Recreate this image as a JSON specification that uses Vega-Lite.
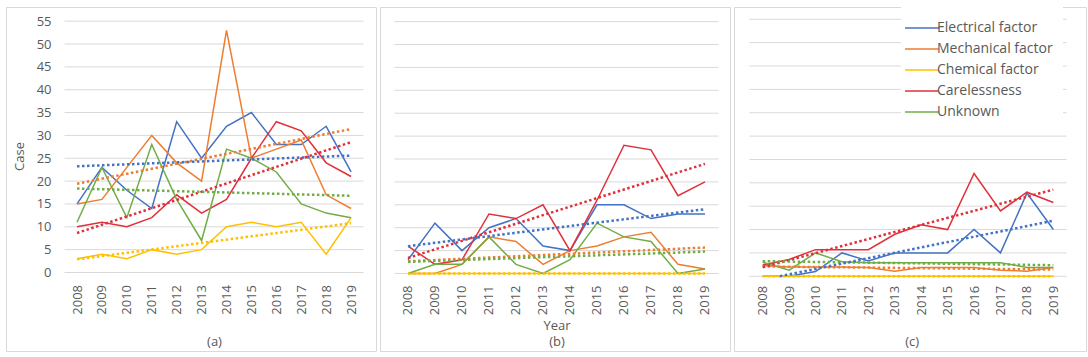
{
  "$schema": "https://vega.github.io/schema/vega-lite/v6.json",
  "padding": {"left": 5, "top": 6, "right": 0, "bottom": 0},
  "spacing": 2,
  "config": {
    "font": "Open Sans",
    "view": {"stroke": "#D9D9D9", "strokeWidth": 1},
    "axis": {"labelFont": "Open Sans", "labelFontSize": 13, "labelColor": "#595959", "labelOverlap": false, "labelSeparation": 0, "titleFont": "Open Sans", "titleFontSize": 13, "titleFontWeight": "normal", "titleColor": "#595959"},
    "legend": {"labelFont": "Open Sans", "labelFontSize": 14, "labelColor": "#595959"}
  },
  "datasets": {
    "grid": [{"g":0},{"g":5},{"g":10},{"g":15},{"g":20},{"g":25},{"g":30},{"g":35},{"g":40},{"g":45},{"g":50},{"g":55}],
    "cases": [
      {"panel":"a","series":"Electrical factor","year":2008,"v":15},{"panel":"a","series":"Electrical factor","year":2009,"v":23},{"panel":"a","series":"Electrical factor","year":2010,"v":18},{"panel":"a","series":"Electrical factor","year":2011,"v":14},{"panel":"a","series":"Electrical factor","year":2012,"v":33},{"panel":"a","series":"Electrical factor","year":2013,"v":25},{"panel":"a","series":"Electrical factor","year":2014,"v":32},{"panel":"a","series":"Electrical factor","year":2015,"v":35},{"panel":"a","series":"Electrical factor","year":2016,"v":28},{"panel":"a","series":"Electrical factor","year":2017,"v":28},{"panel":"a","series":"Electrical factor","year":2018,"v":32},{"panel":"a","series":"Electrical factor","year":2019,"v":22},
      {"panel":"a","series":"Mechanical factor","year":2008,"v":15},{"panel":"a","series":"Mechanical factor","year":2009,"v":16},{"panel":"a","series":"Mechanical factor","year":2010,"v":23},{"panel":"a","series":"Mechanical factor","year":2011,"v":30},{"panel":"a","series":"Mechanical factor","year":2012,"v":24},{"panel":"a","series":"Mechanical factor","year":2013,"v":20},{"panel":"a","series":"Mechanical factor","year":2014,"v":53},{"panel":"a","series":"Mechanical factor","year":2015,"v":25},{"panel":"a","series":"Mechanical factor","year":2016,"v":27},{"panel":"a","series":"Mechanical factor","year":2017,"v":29},{"panel":"a","series":"Mechanical factor","year":2018,"v":17},{"panel":"a","series":"Mechanical factor","year":2019,"v":14},
      {"panel":"a","series":"Chemical factor","year":2008,"v":3},{"panel":"a","series":"Chemical factor","year":2009,"v":4},{"panel":"a","series":"Chemical factor","year":2010,"v":3},{"panel":"a","series":"Chemical factor","year":2011,"v":5},{"panel":"a","series":"Chemical factor","year":2012,"v":4},{"panel":"a","series":"Chemical factor","year":2013,"v":5},{"panel":"a","series":"Chemical factor","year":2014,"v":10},{"panel":"a","series":"Chemical factor","year":2015,"v":11},{"panel":"a","series":"Chemical factor","year":2016,"v":10},{"panel":"a","series":"Chemical factor","year":2017,"v":11},{"panel":"a","series":"Chemical factor","year":2018,"v":4},{"panel":"a","series":"Chemical factor","year":2019,"v":12},
      {"panel":"a","series":"Carelessness","year":2008,"v":10},{"panel":"a","series":"Carelessness","year":2009,"v":11},{"panel":"a","series":"Carelessness","year":2010,"v":10},{"panel":"a","series":"Carelessness","year":2011,"v":12},{"panel":"a","series":"Carelessness","year":2012,"v":17},{"panel":"a","series":"Carelessness","year":2013,"v":13},{"panel":"a","series":"Carelessness","year":2014,"v":16},{"panel":"a","series":"Carelessness","year":2015,"v":25},{"panel":"a","series":"Carelessness","year":2016,"v":33},{"panel":"a","series":"Carelessness","year":2017,"v":31},{"panel":"a","series":"Carelessness","year":2018,"v":24},{"panel":"a","series":"Carelessness","year":2019,"v":21},
      {"panel":"a","series":"Unknown","year":2008,"v":11},{"panel":"a","series":"Unknown","year":2009,"v":23},{"panel":"a","series":"Unknown","year":2010,"v":12},{"panel":"a","series":"Unknown","year":2011,"v":28},{"panel":"a","series":"Unknown","year":2012,"v":16},{"panel":"a","series":"Unknown","year":2013,"v":7},{"panel":"a","series":"Unknown","year":2014,"v":27},{"panel":"a","series":"Unknown","year":2015,"v":25},{"panel":"a","series":"Unknown","year":2016,"v":22},{"panel":"a","series":"Unknown","year":2017,"v":15},{"panel":"a","series":"Unknown","year":2018,"v":13},{"panel":"a","series":"Unknown","year":2019,"v":12},
      {"panel":"b","series":"Electrical factor","year":2008,"v":3},{"panel":"b","series":"Electrical factor","year":2009,"v":11},{"panel":"b","series":"Electrical factor","year":2010,"v":5},{"panel":"b","series":"Electrical factor","year":2011,"v":10},{"panel":"b","series":"Electrical factor","year":2012,"v":12},{"panel":"b","series":"Electrical factor","year":2013,"v":6},{"panel":"b","series":"Electrical factor","year":2014,"v":5},{"panel":"b","series":"Electrical factor","year":2015,"v":15},{"panel":"b","series":"Electrical factor","year":2016,"v":15},{"panel":"b","series":"Electrical factor","year":2017,"v":12},{"panel":"b","series":"Electrical factor","year":2018,"v":13},{"panel":"b","series":"Electrical factor","year":2019,"v":13},
      {"panel":"b","series":"Mechanical factor","year":2008,"v":0},{"panel":"b","series":"Mechanical factor","year":2009,"v":0},{"panel":"b","series":"Mechanical factor","year":2010,"v":2},{"panel":"b","series":"Mechanical factor","year":2011,"v":8},{"panel":"b","series":"Mechanical factor","year":2012,"v":7},{"panel":"b","series":"Mechanical factor","year":2013,"v":2},{"panel":"b","series":"Mechanical factor","year":2014,"v":5},{"panel":"b","series":"Mechanical factor","year":2015,"v":6},{"panel":"b","series":"Mechanical factor","year":2016,"v":8},{"panel":"b","series":"Mechanical factor","year":2017,"v":9},{"panel":"b","series":"Mechanical factor","year":2018,"v":2},{"panel":"b","series":"Mechanical factor","year":2019,"v":1},
      {"panel":"b","series":"Chemical factor","year":2008,"v":0},{"panel":"b","series":"Chemical factor","year":2009,"v":0},{"panel":"b","series":"Chemical factor","year":2010,"v":0},{"panel":"b","series":"Chemical factor","year":2011,"v":0},{"panel":"b","series":"Chemical factor","year":2012,"v":0},{"panel":"b","series":"Chemical factor","year":2013,"v":0},{"panel":"b","series":"Chemical factor","year":2014,"v":0},{"panel":"b","series":"Chemical factor","year":2015,"v":0},{"panel":"b","series":"Chemical factor","year":2016,"v":0},{"panel":"b","series":"Chemical factor","year":2017,"v":0},{"panel":"b","series":"Chemical factor","year":2018,"v":0},{"panel":"b","series":"Chemical factor","year":2019,"v":0},
      {"panel":"b","series":"Carelessness","year":2008,"v":6},{"panel":"b","series":"Carelessness","year":2009,"v":2},{"panel":"b","series":"Carelessness","year":2010,"v":3},{"panel":"b","series":"Carelessness","year":2011,"v":13},{"panel":"b","series":"Carelessness","year":2012,"v":12},{"panel":"b","series":"Carelessness","year":2013,"v":15},{"panel":"b","series":"Carelessness","year":2014,"v":5},{"panel":"b","series":"Carelessness","year":2015,"v":16},{"panel":"b","series":"Carelessness","year":2016,"v":28},{"panel":"b","series":"Carelessness","year":2017,"v":27},{"panel":"b","series":"Carelessness","year":2018,"v":17},{"panel":"b","series":"Carelessness","year":2019,"v":20},
      {"panel":"b","series":"Unknown","year":2008,"v":0},{"panel":"b","series":"Unknown","year":2009,"v":2},{"panel":"b","series":"Unknown","year":2010,"v":2},{"panel":"b","series":"Unknown","year":2011,"v":8},{"panel":"b","series":"Unknown","year":2012,"v":2},{"panel":"b","series":"Unknown","year":2013,"v":0},{"panel":"b","series":"Unknown","year":2014,"v":3},{"panel":"b","series":"Unknown","year":2015,"v":11},{"panel":"b","series":"Unknown","year":2016,"v":8},{"panel":"b","series":"Unknown","year":2017,"v":7},{"panel":"b","series":"Unknown","year":2018,"v":0},{"panel":"b","series":"Unknown","year":2019,"v":1},
      {"panel":"c","series":"Electrical factor","year":2008,"v":0},{"panel":"c","series":"Electrical factor","year":2009,"v":0},{"panel":"c","series":"Electrical factor","year":2010,"v":1},{"panel":"c","series":"Electrical factor","year":2011,"v":5},{"panel":"c","series":"Electrical factor","year":2012,"v":3.3},{"panel":"c","series":"Electrical factor","year":2013,"v":5},{"panel":"c","series":"Electrical factor","year":2014,"v":5},{"panel":"c","series":"Electrical factor","year":2015,"v":5},{"panel":"c","series":"Electrical factor","year":2016,"v":10},{"panel":"c","series":"Electrical factor","year":2017,"v":5},{"panel":"c","series":"Electrical factor","year":2018,"v":17.8},{"panel":"c","series":"Electrical factor","year":2019,"v":10},
      {"panel":"c","series":"Mechanical factor","year":2008,"v":2.3},{"panel":"c","series":"Mechanical factor","year":2009,"v":2},{"panel":"c","series":"Mechanical factor","year":2010,"v":2},{"panel":"c","series":"Mechanical factor","year":2011,"v":2},{"panel":"c","series":"Mechanical factor","year":2012,"v":1.9},{"panel":"c","series":"Mechanical factor","year":2013,"v":1.1},{"panel":"c","series":"Mechanical factor","year":2014,"v":1.9},{"panel":"c","series":"Mechanical factor","year":2015,"v":1.9},{"panel":"c","series":"Mechanical factor","year":2016,"v":1.9},{"panel":"c","series":"Mechanical factor","year":2017,"v":1.3},{"panel":"c","series":"Mechanical factor","year":2018,"v":1.1},{"panel":"c","series":"Mechanical factor","year":2019,"v":1.9},
      {"panel":"c","series":"Chemical factor","year":2008,"v":0},{"panel":"c","series":"Chemical factor","year":2009,"v":0},{"panel":"c","series":"Chemical factor","year":2010,"v":0},{"panel":"c","series":"Chemical factor","year":2011,"v":0},{"panel":"c","series":"Chemical factor","year":2012,"v":0},{"panel":"c","series":"Chemical factor","year":2013,"v":0},{"panel":"c","series":"Chemical factor","year":2014,"v":0},{"panel":"c","series":"Chemical factor","year":2015,"v":0},{"panel":"c","series":"Chemical factor","year":2016,"v":0},{"panel":"c","series":"Chemical factor","year":2017,"v":0},{"panel":"c","series":"Chemical factor","year":2018,"v":0},{"panel":"c","series":"Chemical factor","year":2019,"v":0},
      {"panel":"c","series":"Carelessness","year":2008,"v":2.4},{"panel":"c","series":"Carelessness","year":2009,"v":3.6},{"panel":"c","series":"Carelessness","year":2010,"v":5.7},{"panel":"c","series":"Carelessness","year":2011,"v":5.7},{"panel":"c","series":"Carelessness","year":2012,"v":5.7},{"panel":"c","series":"Carelessness","year":2013,"v":9},{"panel":"c","series":"Carelessness","year":2014,"v":11},{"panel":"c","series":"Carelessness","year":2015,"v":10},{"panel":"c","series":"Carelessness","year":2016,"v":22},{"panel":"c","series":"Carelessness","year":2017,"v":14},{"panel":"c","series":"Carelessness","year":2018,"v":18},{"panel":"c","series":"Carelessness","year":2019,"v":15.8},
      {"panel":"c","series":"Unknown","year":2008,"v":3},{"panel":"c","series":"Unknown","year":2009,"v":1.3},{"panel":"c","series":"Unknown","year":2010,"v":5},{"panel":"c","series":"Unknown","year":2011,"v":3.1},{"panel":"c","series":"Unknown","year":2012,"v":2.9},{"panel":"c","series":"Unknown","year":2013,"v":2.9},{"panel":"c","series":"Unknown","year":2014,"v":2.9},{"panel":"c","series":"Unknown","year":2015,"v":2.9},{"panel":"c","series":"Unknown","year":2016,"v":2.9},{"panel":"c","series":"Unknown","year":2017,"v":2.9},{"panel":"c","series":"Unknown","year":2018,"v":1.9},{"panel":"c","series":"Unknown","year":2019,"v":1.9}
    ]
  },
  "resolve": {"legend": {"color": "independent"}},
  "hconcat": [
    {
      "width": 370, "height": 344,
      "resolve": {"scale": {"color": "independent"}},
      "layer": [
        {"data": {"name": "grid"}, "mark": {"type": "rule", "color": "#D9D9D9", "strokeWidth": 1},
         "encoding": {
           "y": {"field": "g", "type": "quantitative", "scale": {"domain": [-17.18, 58.1], "nice": false, "zero": false},
                 "axis": {"orient": "left", "offset": -47, "values": [0,5,10,15,20,25,30,35,40,45,50,55], "tickCount": 30, "labelOverlap": false, "grid": false, "domain": false, "ticks": false, "labelPadding": 2, "title": "Case", "titleX": -34, "titleY": 149, "titleAngle": -90, "titleBaseline": "middle"}},
           "x": {"datum": 2007.5, "type": "quantitative", "scale": {"domain": [2005.15, 2020.0], "nice": false, "zero": false},
                 "axis": {"orient": "bottom", "offset": -78.5, "values": [2008,2009,2010,2011,2012,2013,2014,2015,2016,2017,2018,2019], "tickCount": 30, "labelOverlap": false, "format": "d", "labelAngle": -90, "grid": false, "domain": false, "ticks": false, "labelPadding": 12, "title": "(a)", "titleX": 208, "titleY": 68.5, "titleBaseline": "middle"}},
           "x2": {"datum": 2019.5}
         }},
        {"data": {"name": "cases"}, "transform": [{"filter": "datum.panel == 'a'"}],
         "mark": {"type": "line", "strokeWidth": 1.5},
         "encoding": {
           "x": {"field": "year", "type": "quantitative"},
           "y": {"field": "v", "type": "quantitative"},
           "color": {"field": "series", "type": "nominal", "legend": null, "scale": {"domain": ["Electrical factor","Mechanical factor","Chemical factor","Carelessness","Unknown"], "range": ["#4472C4","#ED7D31","#FFC000","#E0303A","#70AD47"]}},
           "strokeWidth": {"field": "series", "type": "nominal", "legend": null, "scale": {"domain": ["Electrical factor","Mechanical factor","Chemical factor","Carelessness","Unknown"], "range": [1.5,1.5,1.5,2,1.5]}}
         }},
        {"data": {"name": "cases"}, "transform": [{"filter": "datum.panel == 'a'"}, {"regression": "v", "on": "year", "groupby": ["series"], "extent": [2008, 2019]}],
         "mark": {"type": "line", "strokeWidth": 2.5, "strokeDash": [2.5, 2.5]},
         "encoding": {
           "x": {"field": "year", "type": "quantitative"},
           "y": {"field": "v", "type": "quantitative"},
           "color": {"field": "series", "type": "nominal", "legend": null, "scale": {"domain": ["Electrical factor","Mechanical factor","Chemical factor","Carelessness","Unknown"], "range": ["#ED7D31","#4472C4","#FFC000","#E0303A","#70AD47"]}}
         }}
      ]
    },
    {
      "width": 350, "height": 344,
      "layer": [
        {"data": {"name": "grid"}, "mark": {"type": "rule", "color": "#D9D9D9", "strokeWidth": 1},
         "encoding": {
           "y": {"field": "g", "type": "quantitative", "scale": {"domain": [-16.92, 58.19], "nice": false, "zero": false}, "axis": null},
           "x": {"datum": 2007.5, "type": "quantitative", "scale": {"domain": [2006.963, 2019.926], "nice": false, "zero": false},
                 "axis": {"orient": "bottom", "offset": -77.5, "values": [2008,2009,2010,2011,2012,2013,2014,2015,2016,2017,2018,2019], "tickCount": 30, "labelOverlap": false, "format": "d", "labelAngle": -90, "grid": false, "domain": false, "ticks": false, "labelPadding": 11.5, "title": ["Year", "(b)"], "titleLineHeight": 16, "titleX": 176.5, "titleY": 51.5, "titleBaseline": "middle"}},
           "x2": {"datum": 2019.5}
         }},
        {"data": {"name": "cases"}, "transform": [{"filter": "datum.panel == 'b'"}],
         "mark": {"type": "line", "strokeWidth": 1.5},
         "encoding": {
           "x": {"field": "year", "type": "quantitative"},
           "y": {"field": "v", "type": "quantitative"},
           "color": {"field": "series", "type": "nominal", "legend": null, "scale": {"domain": ["Electrical factor","Mechanical factor","Chemical factor","Carelessness","Unknown"], "range": ["#4472C4","#ED7D31","#FFC000","#E0303A","#70AD47"]}},
           "strokeWidth": {"field": "series", "type": "nominal", "legend": null, "scale": {"domain": ["Electrical factor","Mechanical factor","Chemical factor","Carelessness","Unknown"], "range": [1.5,1.5,1.5,2,1.5]}}
         }},
        {"data": {"name": "cases"}, "transform": [{"filter": "datum.panel == 'b'"}, {"regression": "v", "on": "year", "groupby": ["series"], "extent": [2008, 2019]}],
         "mark": {"type": "line", "strokeWidth": 2.5, "strokeDash": [2.5, 2.5]},
         "encoding": {
           "x": {"field": "year", "type": "quantitative"},
           "y": {"field": "v", "type": "quantitative"},
           "color": {"field": "series", "type": "nominal", "legend": null}
         }}
      ]
    },
    {
      "width": 352, "height": 344,
      "layer": [
        {"data": {"name": "grid"}, "mark": {"type": "rule", "color": "#D9D9D9", "strokeWidth": 1},
         "encoding": {
           "y": {"field": "g", "type": "quantitative", "scale": {"domain": [-15.99, 57.63], "nice": false, "zero": false}, "axis": null},
           "x": {"datum": 2007.5, "type": "quantitative", "scale": {"domain": [2006.914, 2020.237], "nice": false, "zero": false},
                 "axis": {"orient": "bottom", "offset": -74.7, "values": [2008,2009,2010,2011,2012,2013,2014,2015,2016,2017,2018,2019], "tickCount": 30, "labelOverlap": false, "format": "d", "labelAngle": -90, "grid": false, "domain": false, "ticks": false, "labelPadding": 9, "title": "(c)", "titleX": 177.7, "titleY": 64.7, "titleBaseline": "middle"}},
           "x2": {"datum": 2019.5}
         }},
        {"data": {"name": "cases"}, "transform": [{"filter": "datum.panel == 'c'"}],
         "mark": {"type": "line", "strokeWidth": 1.5},
         "encoding": {
           "x": {"field": "year", "type": "quantitative"},
           "y": {"field": "v", "type": "quantitative"},
           "color": {"field": "series", "type": "nominal", "title": null,
                     "scale": {"domain": ["Electrical factor","Mechanical factor","Chemical factor","Carelessness","Unknown"], "range": ["#4472C4","#ED7D31","#FFC000","#E0303A","#70AD47"]},
                     "legend": {"orient": "none", "legendX": 167, "legendY": 0, "padding": 10, "fillColor": "white", "symbolType": "M-1.7,0H1.7", "symbolSize": 400, "symbolStrokeWidth": 1.5, "labelOffset": 4, "rowPadding": 3}},
           "strokeWidth": {"field": "series", "type": "nominal", "legend": null, "scale": {"domain": ["Electrical factor","Mechanical factor","Chemical factor","Carelessness","Unknown"], "range": [1.5,1.5,1.5,2,1.5]}}
         }},
        {"data": {"name": "cases"}, "transform": [{"filter": "datum.panel == 'c' && datum.series != 'Electrical factor'"}, {"regression": "v", "on": "year", "groupby": ["series"], "extent": [2008, 2019]}],
         "mark": {"type": "line", "strokeWidth": 2.5, "strokeDash": [2.5, 2.5]},
         "encoding": {
           "x": {"field": "year", "type": "quantitative"},
           "y": {"field": "v", "type": "quantitative"},
           "color": {"field": "series", "type": "nominal", "legend": null}
         }},
        {"data": {"name": "cases"}, "transform": [{"filter": "datum.panel == 'c' && datum.series == 'Electrical factor'"}, {"regression": "v", "on": "year", "groupby": ["series"], "extent": [2008.65, 2019]}],
         "mark": {"type": "line", "strokeWidth": 2.5, "strokeDash": [2.5, 2.5]},
         "encoding": {
           "x": {"field": "year", "type": "quantitative"},
           "y": {"field": "v", "type": "quantitative"},
           "color": {"field": "series", "type": "nominal", "legend": null}
         }}
      ]
    }
  ]
}
